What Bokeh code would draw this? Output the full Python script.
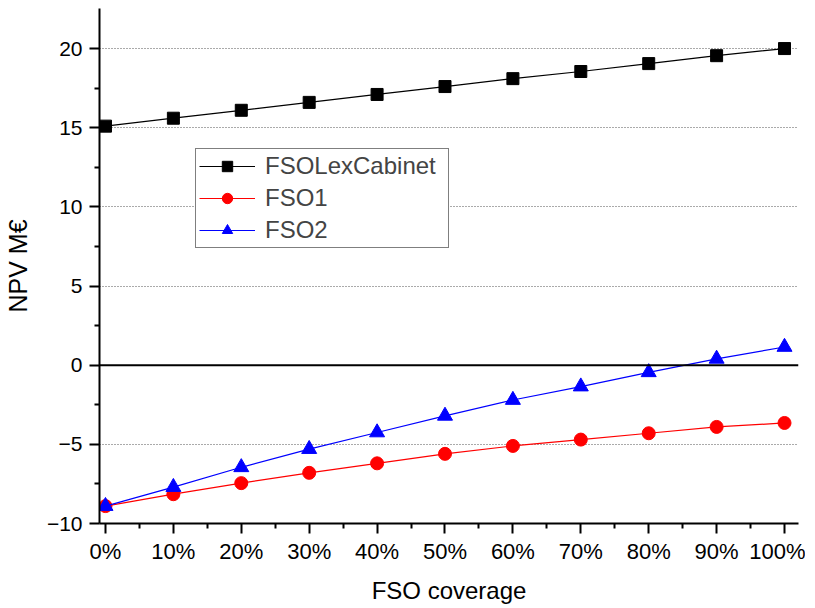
from bokeh.plotting import figure
from bokeh.models import FixedTicker, PrintfTickFormatter, Span, Range1d, Legend, LegendItem
from bokeh.embed import file_html
from bokeh.resources import INLINE

coverage = [0, 10, 20, 30, 40, 50, 60, 70, 80, 90, 100]
fso_lex_cabinet = [15.1, 15.6, 16.1, 16.6, 17.1, 17.6, 18.1, 18.55, 19.05, 19.55, 20.0]
fso1 = [-8.9, -8.15, -7.45, -6.8, -6.2, -5.6, -5.1, -4.7, -4.3, -3.9, -3.65]
fso2 = [-8.9, -7.7, -6.45, -5.3, -4.25, -3.2, -2.2, -1.35, -0.45, 0.4, 1.15]
x_ticks = [0, 10, 20, 30, 40, 50, 60, 70, 80, 90, 100]
x_minor = [5, 15, 25, 35, 45, 55, 65, 75, 85, 95]
y_ticks = [-10, -5, 0, 5, 10, 15, 20]
y_minor = [-7.5, -2.5, 2.5, 7.5, 12.5, 17.5]
grid_levels = [-5, 5, 10, 15, 20]

FONT = "Liberation Sans"

p = figure(width=805, height=606, output_backend="svg", toolbar_location=None,
           x_range=Range1d(-0.88, 102.06), y_range=Range1d(-10, 22.53),
           min_border_left=97, min_border_right=7, min_border_top=8, min_border_bottom=83)
p.outline_line_color = None
p.background_fill_color = "white"

p.xgrid.visible = False
p.ygrid.ticker = FixedTicker(ticks=grid_levels)
p.ygrid.grid_line_color = "#555555"
p.ygrid.grid_line_dash = "1 2"
p.ygrid.grid_line_width = 1

p.add_layout(Span(location=0, dimension="width", line_color="black", line_width=2))

r1 = p.line(coverage, fso_lex_cabinet, line_color="black", line_width=1.2)
m1 = p.scatter(coverage, fso_lex_cabinet, marker="square", size=12, fill_color="black", line_color="black")
r2 = p.line(coverage, fso1, line_color="red", line_width=1.2)
m2 = p.scatter(coverage, fso1, marker="circle", size=13, fill_color="red", line_color="red")
r3 = p.line(coverage, fso2, line_color="blue", line_width=1.2)
m3 = p.scatter(coverage, fso2, marker="triangle", size=15, fill_color="blue", line_color="blue")

for ax in (p.xaxis[0], p.yaxis[0]):
    ax.axis_line_width = 2
    ax.axis_line_color = "black"
    ax.major_tick_line_width = 2
    ax.minor_tick_line_width = 2
    ax.major_tick_out = 10
    ax.major_tick_in = 0
    ax.minor_tick_out = 5
    ax.minor_tick_in = 0
    ax.major_label_text_font = FONT
    ax.axis_label_text_font = FONT
    ax.axis_label_text_font_style = "normal"
    ax.major_label_text_color = "black"
    ax.axis_label_text_color = "black"

p.xaxis.ticker = FixedTicker(ticks=x_ticks, minor_ticks=x_minor)
p.xaxis.formatter = PrintfTickFormatter(format="%d%%")
p.xaxis.major_label_text_font_size = "22px"
p.xaxis.major_label_standoff = 5
p.xaxis.axis_label = "FSO coverage"
p.xaxis.axis_label_text_font_size = "24px"
p.xaxis.axis_label_standoff = 10

p.yaxis.ticker = FixedTicker(ticks=y_ticks, minor_ticks=y_minor)
p.yaxis.major_label_text_font_size = "21px"
p.yaxis.major_label_standoff = 7
p.yaxis.axis_label = "NPV M€"
p.yaxis.axis_label_text_font_size = "25px"
p.yaxis.axis_label_standoff = 12

legend = Legend(items=[
    LegendItem(label="FSOLexCabinet", renderers=[r1, m1]),
    LegendItem(label="FSO1", renderers=[r2, m2]),
    LegendItem(label="FSO2", renderers=[r3, m3]),
], location=(96, 275))
legend.border_line_color = "black"
legend.border_line_width = 1.5
legend.background_fill_alpha = 1
legend.label_text_font = FONT
legend.label_text_font_size = "24px"
legend.glyph_width = 56
legend.glyph_height = 26
legend.label_height = 26
legend.label_width = 180
legend.spacing = 4
legend.padding = 3
legend.margin = 0
legend.label_standoff = 10
p.add_layout(legend)

open("out.html", "w").write(file_html(p, INLINE))
